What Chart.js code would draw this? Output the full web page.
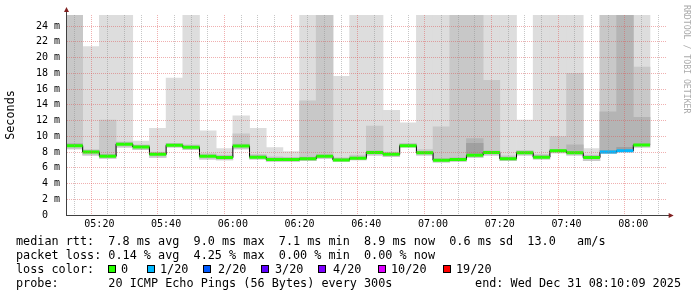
<!DOCTYPE html>
<html><head><meta charset="utf-8">
<script src="https://cdn.jsdelivr.net/npm/chart.js@4/dist/chart.umd.min.js"></script>
<style>
html,body{margin:0;padding:0;background:#fff;}
#wrap{position:relative;width:697px;height:297px;overflow:hidden;background:#fff;}
canvas{position:absolute;left:0;top:0;}
.t{position:absolute;font-family:"DejaVu Sans Mono",monospace;font-size:11.8px;line-height:14px;white-space:pre;color:#000;}
.box{position:absolute;width:6px;height:6px;border:1px solid #000;top:265px;}
#credit{position:absolute;left:682px;top:5px;writing-mode:vertical-rl;font-family:"DejaVu Sans Mono",monospace;font-size:8.2px;color:#aaa;white-space:pre;line-height:10px;}
</style></head>
<body><div id="wrap">
<canvas id="c" width="697" height="297"></canvas>
<div id="credit">RRDTOOL / TOBI OETIKER</div>
<div class="t" style="left:16px;top:234px">median rtt:  7.8 ms avg  9.0 ms max  7.1 ms min  8.9 ms now  0.6 ms sd  13.0   am/s</div>
<div class="t" style="left:16px;top:248px">packet loss: 0.14 % avg  4.25 % max  0.00 % min  0.00 % now</div>
<div class="t" style="left:16px;top:262px">loss color:</div>
<div id="legend"></div>
<div class="t" style="left:16px;top:276px">probe:       20 ICMP Echo Pings (56 Bytes) every 300s</div>
<div class="t" style="right:16px;top:276px">end: Wed Dec 31 08:10:09 2025</div>
</div>
<script>
// ---- data ----
const axisStart = '05:10';
const axisEnd = '08:10';
const probeStepSeconds = 300;
const intervalStart = ['05:10','05:15','05:20','05:25','05:30','05:35','05:40','05:45','05:50','05:55',
  '06:00','06:05','06:10','06:15','06:20','06:25','06:30','06:35','06:40','06:45','06:50','06:55',
  '07:00','07:05','07:10','07:15','07:20','07:25','07:30','07:35','07:40','07:45','07:50','07:55','08:00'];
const medianMs = [8.8, 8.0, 7.45, 9.0, 8.65, 7.7, 8.85, 8.6, 7.45, 7.3, 8.75, 7.35, 7.05, 7.05, 7.15, 7.45, 7.0, 7.2,
  7.95, 7.7, 8.8, 7.9, 6.95, 7.05, 7.6, 7.95, 7.15, 7.9, 7.35, 8.15, 7.9, 7.3, 8.0, 8.15, 8.9];
const lossCount = [0,0,0,0,0,0,0,0,0,0,0,0,0,0,0,0,0,0,0,0,0,0,0,0,0,0,0,0,0,0,0,0,1,1,0];
const smokeMin = [8.4, 7.6, 7.2, 8.6, 8.3, 7.3, 8.6, 8.3, 7.1, 7.0, 8.4, 7.1, 6.8, 6.8, 6.9, 7.2, 6.8, 7.0,
  7.6, 7.4, 8.6, 7.6, 6.7, 6.8, 7.3, 7.6, 6.9, 7.6, 7.1, 7.9, 7.6, 6.9, 7.8, 8.0, 8.6];
const smokeOuter = [30, 21.4, 30, 30, 9.4, 11.0, 17.4, 30, 10.7, 8.45, 12.6, 11.0, 8.55, 8.05, 30, 30, 17.6, 30,
  30, 13.3, 11.7, 30, 30, 30, 30, 30, 30, 12.05, 30, 30, 30, 8.45, 30, 30, 30];
const smokeMid = [30, 8.3, 12.05, 9.3, 8.9, 8.0, 9.1, 8.9, 7.8, 7.6, 10.3, 7.7, 7.4, 7.3, 14.5, 30, 7.3, 7.6,
  11.3, 8.0, 9.1, 8.3, 11.2, 30, 30, 17.1, 7.5, 8.2, 7.7, 9.95, 18.0, 7.6, 30, 30, 18.8];
const smokeInner = [9.1, 8.2, 7.7, 9.2, 8.85, 7.9, 9.05, 8.8, 7.65, 7.5, 9.0, 7.55, 7.25, 7.25, 7.35, 7.65, 7.2, 7.4,
  8.15, 7.9, 9.0, 8.1, 7.15, 7.25, 9.7, 8.15, 7.35, 8.1, 7.55, 8.35, 8.9, 7.5, 13.1, 30, 12.4];
const smokeCore = [8.95, 8.1, 7.6, 9.1, 8.75, 7.8, 8.95, 8.7, 7.55, 7.4, 8.85, 7.45, 7.15, 7.15, 7.25, 7.55, 7.1, 7.3,
  8.05, 7.8, 8.9, 8.0, 7.05, 7.15, 9.1, 8.05, 7.25, 8.0, 7.45, 8.25, 8.05, 7.4, 8.2, 8.6, 9.0];
const xTickLabels = ['05:20','05:40','06:00','06:20','06:40','07:00','07:20','07:40','08:00'];
const yTickLabels = ['0  ','2 m','4 m','6 m','8 m','10 m','12 m','14 m','16 m','18 m','20 m','22 m','24 m'];
const lossLabels = ['0','1/20','2/20','3/20','4/20','10/20','19/20'];
const lossThreshold = [0,1,2,3,4,10,19];
const lossColors = ['#26ff00','#00b8ff','#0059ff','#5e00ff','#7e00ff','#dd00ff','#ff0000'];

// ---- layout / style ----
const legendBoxX = [108,147,203,261,318,378,443];
const legendTextX = [121,160,218,275,333,391,456];
const MONO = '"DejaVu Sans Mono", monospace';
const MINOR = 'rgba(143,143,143,0.5)';
const MAJOR = 'rgba(222,79,79,0.45)';

const lg = document.getElementById('legend');
lossLabels.forEach((lab, i) => {
  const b = document.createElement('div'); b.className = 'box';
  b.style.left = legendBoxX[i] + 'px'; b.style.background = lossColors[i]; lg.appendChild(b);
  const t = document.createElement('div'); t.className = 't';
  t.style.left = legendTextX[i] + 'px'; t.style.top = '262px'; t.textContent = lab; lg.appendChild(t);
});

const toMin = s => { const p = s.split(':').map(Number); return p[0] * 60 + p[1]; };
const t0 = toMin(axisStart), tEnd = toMin(axisEnd);
const stepMin = probeStepSeconds / 60;
const xs = intervalStart.map(s => toMin(s) - t0);
const pad2 = n => String(n).padStart(2, '0');
const minToLabel = v => { const m = t0 + v; return pad2(Math.floor(m / 60)) + ':' + pad2(m % 60); };
const floatBars = (lo, hi) => xs.map((x, i) => ({ x: x + stepMin / 2, y: [lo[i], hi[i]] }));
const medianSeg = [];
xs.forEach((x, i) => { medianSeg.push({ x, y: medianMs[i] }, { x: x + stepMin, y: medianMs[i] }, { x: x + stepMin, y: null }); });
const medianStep = xs.map((x, i) => ({ x, y: medianMs[i] }))
  .concat([{ x: xs[xs.length - 1] + stepMin, y: medianMs[medianMs.length - 1] }]);
const lossIdx = c => { let k = 0; lossThreshold.forEach((t, j) => { if (c >= t) k = j; }); return k; };

const barCommon = { type: 'bar', borderWidth: 0, barPercentage: 1, categoryPercentage: 1, grouped: false };

const arrows = {
  id: 'arrows',
  afterDraw(chart) {
    const { ctx, chartArea: a } = chart;
    const lx = Math.round(a.left) + 0.5, by = Math.round(a.bottom) + 0.5;
    ctx.save();
    ctx.strokeStyle = '#404040'; ctx.lineWidth = 1;
    ctx.beginPath();
    ctx.moveTo(lx, a.top); ctx.lineTo(lx, a.top - 4);
    ctx.moveTo(a.right, by); ctx.lineTo(a.right + 3, by);
    ctx.stroke();
    ctx.fillStyle = '#802020';
    ctx.beginPath();
    ctx.moveTo(lx, a.top - 8); ctx.lineTo(lx - 2.5, a.top - 3); ctx.lineTo(lx + 2.5, a.top - 3); ctx.closePath();
    ctx.moveTo(a.right + 7, by); ctx.lineTo(a.right + 2, by - 2.5); ctx.lineTo(a.right + 2, by + 2.5); ctx.closePath();
    ctx.fill();
    ctx.restore();
  }
};

new Chart(document.getElementById('c'), {
  type: 'bar',
  data: {
    datasets: [
      { type: 'line', order: 0, data: medianSeg, borderColor: lossColors[0], borderWidth: 3, borderCapStyle: 'butt',
        pointRadius: 0, spanGaps: false,
        segment: { borderColor: c => lossColors[lossIdx(lossCount[Math.floor(c.p0DataIndex / 3)])] } },
      { type: 'line', order: 1, data: medianStep, borderColor: '#000', borderWidth: 1, stepped: 'before', pointRadius: 0 },
      Object.assign({ order: 2, data: floatBars(medianMs, smokeCore), backgroundColor: '#a0a0a0' }, barCommon),
      Object.assign({ order: 3, data: floatBars(medianMs, smokeInner), backgroundColor: '#b4b4b4' }, barCommon),
      Object.assign({ order: 4, data: floatBars(smokeMin, smokeMid), backgroundColor: '#c8c8c8' }, barCommon),
      Object.assign({ order: 5, data: floatBars(smokeMin, smokeOuter), backgroundColor: '#dddddd' }, barCommon)
    ]
  },
  options: {
    responsive: false, animation: false, devicePixelRatio: 1,
    layout: { padding: { left: 0, top: 15, right: 30.33, bottom: 0 } },
    plugins: { legend: { display: false }, tooltip: { enabled: false } },
    scales: {
      x: {
        type: 'linear', min: 0, max: tEnd - t0, offset: false,
        grid: { z: 1, drawTicks: false, lineWidth: 1,
          color: c => (c.tick && xTickLabels.includes(minToLabel(c.tick.value))) ? MAJOR : MINOR },
        border: { display: true, color: '#404040', width: 1, dash: [1, 1], z: 2 },
        ticks: { stepSize: stepMin, autoSkip: false, maxRotation: 0, padding: 3, color: '#000',
          font: { family: MONO, size: 10 },
          callback: v => { const l = minToLabel(v); return xTickLabels.includes(l) ? l : ''; } },
        afterFit: s => { s.height = 82; }
      },
      y: {
        min: 0, max: 25.4,
        grid: { z: 1, drawTicks: false, lineWidth: 1,
          color: c => (c.tick && Math.round(c.tick.value) % 2 === 0) ? MAJOR : MINOR },
        border: { display: true, color: '#404040', width: 1, dash: [1, 1], z: 2 },
        ticks: { stepSize: 1, includeBounds: false, padding: 6, color: '#000', font: { family: MONO, size: 10 },
          callback: v => { const r = Math.round(v); return r % 2 === 0 ? (yTickLabels[r / 2] || '') : ''; } },
        title: { display: true, text: 'Seconds', color: '#000', font: { family: MONO, size: 11.8 }, padding: { top: 4, bottom: 0 } },
        afterFit: s => { s.width = 66; }
      }
    }
  },
  plugins: [arrows]
});
</script>
</body></html>
